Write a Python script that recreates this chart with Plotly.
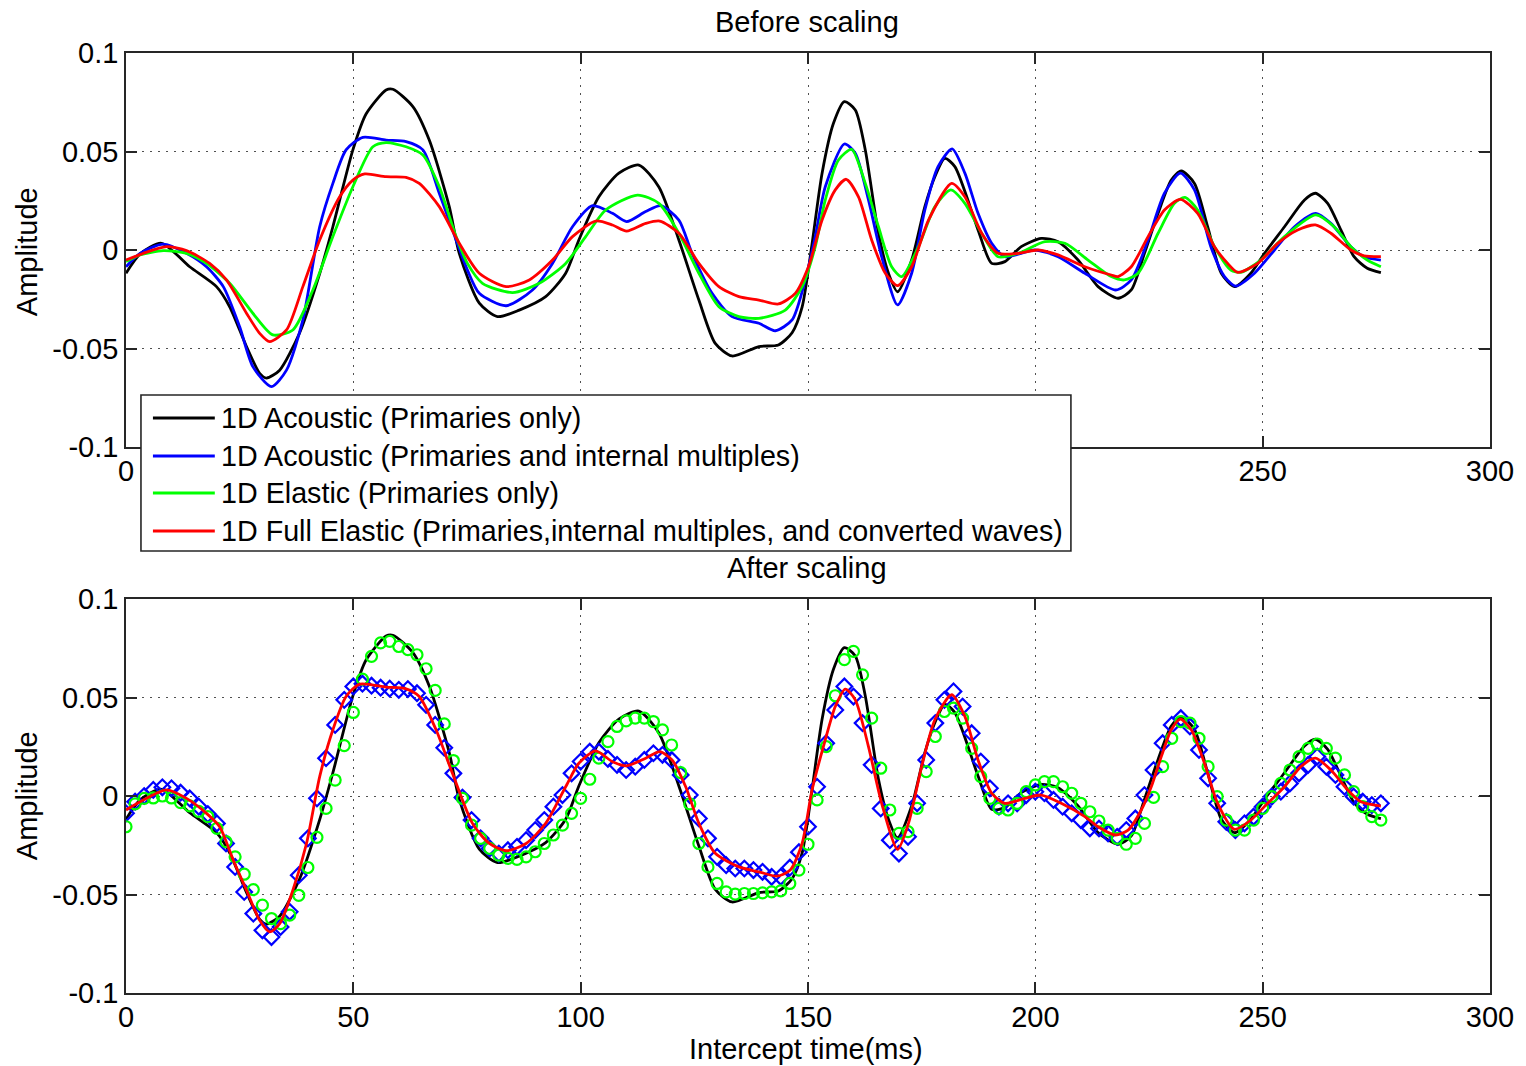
import plotly.graph_objects as go

# ---------------- data ----------------
# Top panel ("Before scaling"), time in ms, amplitude
t_black = [0, 3.1, 7.8, 14, 19.9, 22.8, 26.5, 29.4, 30.9, 33.8, 38.2, 42.6, 45.5, 49.9, 52.8, 57.2, 58.7,
           63.1, 66.7, 71.1, 73.3, 77.7, 81.7, 86.5, 92.3, 96.7, 99.6, 104, 108.4, 112.8, 117.2, 121.6,
           126, 129.6, 133.3, 139.2, 143.5, 146.5, 148.7, 150.7, 153.1, 155.6, 158, 160.4, 162.6, 165.5,
           167.7, 169.7, 172.8, 175.7, 177.9, 180.1, 182.3, 187.4, 190.4, 193.3, 196.9, 201.3, 205,
           209.4, 213.8, 218.2, 221.1, 224, 227, 229.9, 232.1, 235, 237.9, 240.9, 243.8, 247.4, 250.4,
           254.8, 259.2, 261.6, 264.3, 267.2, 270.1, 273, 276]
v_black = [-0.0118, -0.002, 0.0034, -0.0085, -0.0186, -0.0288, -0.049, -0.0626, -0.065, -0.061, -0.042,
           -0.012, 0.0118, 0.0508, 0.069, 0.0812, 0.0816, 0.0728, 0.0558, 0.022, -0.0017, -0.027,
           -0.0338, -0.0305, -0.0237, -0.0118, 0.0051, 0.027, 0.039, 0.0431, 0.032, 0.0051, -0.0254,
           -0.0474, -0.0538, -0.049, -0.0482, -0.042, -0.029, 0.0, 0.039, 0.0643, 0.0753, 0.0711,
           0.0508, 0.0085, -0.0118, -0.0212, -0.0051, 0.022, 0.0372, 0.0465, 0.0423, 0.0102, -0.0068,
           -0.0059, 0.0017, 0.0059, 0.0042, -0.0051, -0.0186, -0.0245, -0.0203, -0.0017, 0.0186,
           0.0355, 0.0401, 0.0338, 0.0118, -0.0118, -0.0186, -0.0118, -0.0017, 0.0118, 0.0254, 0.0288,
           0.0237, 0.0102, -0.0034, -0.0093, -0.0115]

t_blue = [0, 3.1, 8.2, 13.3, 17.7, 21.4, 25, 27.9, 32, 35.3, 38.9, 42.6, 45.5, 48.4, 52.1, 57.2, 61.6,
          65.3, 68.9, 72.6, 75.1, 77.7, 83.6, 89.4, 93.8, 98.2, 102.6, 107, 110.1, 114.3, 117.6, 121.6,
          124.5, 128.9, 133.3, 139.2, 142.8, 146.5, 149.4, 151.6, 153.8, 158, 160.4, 163.3, 166.2,
          169.7, 172.8, 175.7, 178.6, 181.7, 184.5, 187.4, 190.4, 193.3, 199.9, 205, 210.9, 217.7,
          221.1, 224.8, 228.4, 231.9, 235, 238.6, 241.6, 244.1, 248.2, 252.6, 257, 261.7, 265, 269.4,
          272.3, 276]
v_blue = [-0.0085, -0.0017, 0.003, -0.0017, -0.0085, -0.0186, -0.039, -0.0592, -0.0694, -0.061, -0.0355,
          0.0118, 0.0338, 0.0508, 0.0572, 0.0558, 0.055, 0.0508, 0.0288, 0.0051, -0.0102, -0.022,
          -0.0283, -0.0203, -0.0068, 0.0118, 0.0225, 0.0186, 0.0144, 0.0195, 0.0225, 0.0152, -0.0017,
          -0.022, -0.0338, -0.0372, -0.041, -0.0355, -0.0152, 0.0068, 0.0321, 0.0538, 0.0491, 0.0254,
          -0.0034, -0.0279, -0.0118, 0.0203, 0.0423, 0.0513, 0.039, 0.0186, 0.0034, -0.0034, 0.0,
          -0.0034, -0.0118, -0.0203, -0.0152, 0.0051, 0.0288, 0.039, 0.0305, 0.0017, -0.0135, -0.0183,
          -0.0118, 0.0, 0.0118, 0.0186, 0.0135, 0.0017, -0.0034, -0.0051]

t_green = [0, 3.1, 8.2, 13.3, 17.7, 22.8, 27.9, 32.3, 36.7, 41.1, 45.5, 49.9, 54.3, 57.2, 61.6, 65.3,
           68.9, 72.6, 75.1, 78.4, 85, 90.9, 96.7, 101.1, 105.5, 112.5, 117.2, 121.6, 126, 130.4, 134.8,
           139.2, 145, 148.7, 151.6, 153.8, 156.7, 159.6, 162.6, 165.5, 168.4, 170.6, 174.3, 177.9,
           181.4, 184.5, 188.2, 191.8, 196.2, 202.1, 206.5, 211.6, 216.7, 219.6, 222.6, 227, 230.6,
           232.9, 235.7, 239.4, 243, 245.2, 249.6, 254.8, 261.7, 265.7, 269.4, 273, 276]
v_green = [-0.0059, -0.0025, -0.0003, -0.0017, -0.0068, -0.0169, -0.0321, -0.0431, -0.0406, -0.0203,
           0.0068, 0.0321, 0.0524, 0.0545, 0.0524, 0.0482, 0.0321, 0.0068, -0.0068, -0.0169, -0.0216,
           -0.0169, -0.0068, 0.0068, 0.0203, 0.0279, 0.0237, 0.0085, -0.0118, -0.0288, -0.0338,
           -0.0347, -0.0305, -0.0186, 0.0017, 0.0254, 0.0457, 0.0511, 0.0338, 0.0118, -0.0085,
           -0.0135, 0.0017, 0.022, 0.0305, 0.0237, 0.0085, -0.0034, -0.0017, 0.0042, 0.0034, -0.0051,
           -0.0135, -0.0152, -0.0118, 0.0085, 0.0237, 0.0267, 0.0203, 0.0017, -0.0102, -0.0113,
           -0.0051, 0.0068, 0.0178, 0.0118, 0.0017, -0.0051, -0.0085]

t_red = [0, 3.8, 8.9, 13.3, 18.4, 22.1, 26.5, 29.4, 31.6, 35.3, 38.9, 42.6, 47, 49.9, 52.5, 57.2, 61.6,
         64.5, 68.9, 73.3, 77.7, 83.6, 88.7, 93.8, 98.2, 103.3, 107, 110.1, 114.3, 117.4, 121.6, 126,
         130.4, 134.8, 139.2, 143.5, 147.2, 150.1, 153.1, 156, 158.4, 161.1, 164, 167, 169.7, 172.8,
         176.5, 181.6, 184.5, 188.2, 191.8, 196.2, 200.6, 205, 210.9, 216.7, 218.2, 221.1, 224.8,
         228.4, 231.9, 235.7, 239.4, 242.3, 244.5, 248.9, 253.3, 257.7, 261.6, 265, 269.4, 272.3, 276]
v_red = [-0.0051, -0.0017, 0.0017, -0.0003, -0.0068, -0.0152, -0.0321, -0.0423, -0.0465, -0.0406,
         -0.0186, 0.0051, 0.027, 0.0355, 0.0386, 0.0372, 0.0369, 0.0338, 0.022, 0.0034, -0.0118,
         -0.0186, -0.0152, -0.0051, 0.0068, 0.0147, 0.0127, 0.0096, 0.0135, 0.0147, 0.0085, -0.0068,
         -0.0186, -0.0237, -0.0254, -0.0274, -0.022, -0.0085, 0.0152, 0.0305, 0.0359, 0.027, 0.0051,
         -0.0118, -0.0181, -0.0085, 0.0152, 0.0338, 0.027, 0.0085, -0.0017, -0.0017, 0.0, -0.0025,
         -0.0085, -0.0127, -0.0135, -0.0085, 0.0068, 0.0203, 0.0257, 0.0186, 0.0017, -0.0068, -0.0113,
         -0.0068, 0.0034, 0.0102, 0.0127, 0.0085, 0.0, -0.003, -0.0034]

# Bottom panel ("After scaling")
t_red_scaled = [0, 3.1, 8.9, 13.3, 17.7, 20.6, 23.6, 26.5, 29.4, 31.6, 33.8, 36.7, 39.7, 42.6, 45.5,
                48.4, 51.4, 57.2, 61.6, 64.5, 68.2, 71.8, 76.2, 79.9, 83.6, 88, 92.3, 96.7, 99.6,
                103.3, 107, 110.1, 114.3, 117.4, 120.1, 123.1, 126, 129.6, 134.8, 139.2, 143.2, 146.1,
                148.7, 150.9, 153.8, 156, 158.2, 160.4, 163.3, 166.2, 169.7, 172.1, 175, 177.9, 181.6,
                184.5, 187.4, 190.4, 193.3, 197.7, 201.3, 205.7, 210.9, 213.8, 217.6, 220.4, 223.3,
                225.5, 227.7, 229.9, 231.9, 234.3, 237.2, 240.1, 243.8, 247.4, 251.1, 254.8, 258.4,
                261.6, 265, 268.7, 271.6, 276]
v_red_scaled = [-0.0071, -0.0029, 0.0031, -0.0012, -0.0088, -0.0156, -0.0326, -0.0478, -0.0631, -0.069,
                -0.0648, -0.0478, -0.0241, 0.0098, 0.0336, 0.0505, 0.0568, 0.0553, 0.0544, 0.0505,
                0.0336, 0.0115, -0.0139, -0.0241, -0.0278, -0.0241, -0.0139, 0.0047, 0.0166, 0.0229,
                0.0174, 0.0153, 0.0192, 0.0225, 0.0183, 0.0047, -0.0139, -0.0291, -0.036, -0.0385,
                -0.0407, -0.0376, -0.0241, 0.0031, 0.0285, 0.0454, 0.0543, 0.0488, 0.0251, -0.0037,
                -0.0271, -0.0139, 0.0149, 0.0387, 0.0514, 0.0404, 0.0183, 0.0014, -0.0037, -0.0012,
                0.0005, -0.0037, -0.0105, -0.0156, -0.0198, -0.0173, -0.0071, 0.0047, 0.02, 0.0336,
                0.039, 0.0336, 0.0166, -0.0037, -0.0169, -0.0122, -0.0037, 0.0047, 0.0149, 0.0192,
                0.0132, 0.0031, -0.0029, -0.0051]

t_markers = list(range(0, 277, 2))
v_blue_markers = [-0.0088, -0.0029, 0.0, 0.0031, 0.0044, 0.0039, 0.0017, -0.0012, -0.0054, -0.0092,
                  -0.0139, -0.0241, -0.036, -0.0487, -0.0597, -0.0682, -0.0716, -0.0665, -0.0588,
                  -0.0402, -0.0215, -0.0012, 0.0192, 0.0361, 0.0488, 0.0556, 0.057, 0.056, 0.055,
                  0.0545, 0.0539, 0.0543, 0.0522, 0.0463, 0.0361, 0.0245, 0.0115, -0.0008, -0.0122,
                  -0.0215, -0.0266, -0.0292, -0.0275, -0.0258, -0.0224, -0.0173, -0.0122, -0.0054,
                  0.0005, 0.0115, 0.0175, 0.0225, 0.0225, 0.0188, 0.0158, 0.0132, 0.0149, 0.0183,
                  0.0217, 0.0209, 0.0183, 0.0107, 0.0005, -0.0114, -0.0215, -0.0309, -0.0351, -0.0368,
                  -0.0368, -0.0376, -0.0385, -0.041, -0.041, -0.0364, -0.0285, -0.0156, 0.0047, 0.0268,
                  0.0437, 0.0556, 0.0505, 0.037, 0.0158, -0.0063, -0.0224, -0.0292, -0.0207, -0.0037,
                  0.0183, 0.037, 0.0488, 0.0531, 0.0454, 0.0319, 0.0175, 0.0039, -0.0054, -0.0037,
                  -0.0037, 0.0005, 0.0022, 0.0014, -0.002, -0.0054, -0.0088, -0.0122, -0.0164, -0.0165,
                  -0.019, -0.0207, -0.0173, -0.0114, 0.0005, 0.0132, 0.0268, 0.0361, 0.0395, 0.0353,
                  0.0234, 0.009, -0.0037, -0.0131, -0.0173, -0.0139, -0.0105, -0.0054, -0.0003, 0.0022,
                  0.0064, 0.0115, 0.0158, 0.02, 0.0149, 0.0107, 0.0047, -0.0003, -0.0029, -0.0046,
                  -0.0037]
v_green_markers = [-0.0156, -0.004, -0.0012, -0.001, 0.0, -0.001, -0.0034, -0.005, -0.0078, -0.0105,
                   -0.0164, -0.0232, -0.0309, -0.0397, -0.0475, -0.0554, -0.0622, -0.0648, -0.0605,
                   -0.0504, -0.0363, -0.021, -0.0063, 0.0081, 0.0256, 0.0424, 0.0593, 0.0709, 0.0777,
                   0.0785, 0.0759, 0.0743, 0.0717, 0.0646, 0.0536, 0.0366, 0.018, -0.0012, -0.0148,
                   -0.0215, -0.0266, -0.030, -0.0317, -0.0322, -0.0309, -0.0283, -0.0241, -0.0198,
                   -0.0148, -0.0088, -0.0012, 0.0085, 0.0192, 0.0276, 0.0353, 0.0381, 0.0395, 0.0395,
                   0.0378, 0.0336, 0.0259, 0.0119, -0.004, -0.0241, -0.036, -0.0444, -0.0487, -0.0498,
                   -0.0495, -0.0495, -0.0492, -0.0487, -0.0482, -0.0444, -0.0376, -0.0245, -0.002,
                   0.0251, 0.0509, 0.0692, 0.0734, 0.0615, 0.0395, 0.0141, -0.0071, -0.019, -0.0181,
                   -0.0063, 0.0124, 0.0302, 0.0429, 0.0446, 0.0395, 0.0242, 0.0098, -0.0012, -0.0063,
                   -0.0071, -0.0037, 0.0022, 0.0056, 0.0073, 0.0073, 0.0047, 0.0014, -0.0037, -0.008,
                   -0.0127, -0.0173, -0.0215, -0.0245, -0.0215, -0.0139, -0.0007, 0.0149, 0.0293,
                   0.0378, 0.037, 0.0293, 0.0149, -0.0003, -0.0122, -0.0173, -0.0173, -0.0122, -0.0063,
                   -0.0003, 0.0064, 0.0132, 0.02, 0.0242, 0.0264, 0.0242, 0.0192, 0.0107, 0.0022,
                   -0.0054, -0.0105, -0.0122]

series_names = ["1D Acoustic (Primaries only)",
                "1D Acoustic (Primaries and internal multiples)",
                "1D Elastic (Primaries only)",
                "1D Full Elastic (Primaries,internal multiples, and converted waves)"]
series_colors = ["#000000", "#0000FF", "#00FF00", "#FF0000"]

x_ticks = [0, 50, 100, 150, 200, 250, 300]
x_ticktext = ["0", "50", "100", "150", "200", "250", "300"]
# in the upper panel the labels 50..200 sit under the legend box and are not visible
x_ticktext_top = ["0", "", "", "", "", "250", "300"]
y_ticks = [-0.1, -0.05, 0, 0.05, 0.1]
y_ticktext = ["-0.1", "-0.05", "0", "0.05", "0.1"]

# ---------------- figure ----------------
W, H = 1526, 1066
ML, MR, MT, MB = 126, 33, 53, 73
PW, PH = W - ML - MR, H - MT - MB


def px_x(p):
    return (p - ML) / PW


def px_y(p):
    return (H - MB - p) / PH


FONT = "Arial, 'Liberation Sans', Helvetica, sans-serif"
FS = 29
LW = 2.8

fig = go.Figure()

# top panel
for t, v, c, n in zip([t_black, t_blue, t_green, t_red], [v_black, v_blue, v_green, v_red],
                      series_colors, series_names):
    fig.add_trace(go.Scatter(x=t, y=v, mode="lines", name=n, showlegend=False,
                             line=dict(color=c, width=LW, shape="spline", smoothing=0.7),
                             xaxis="x", yaxis="y"))

# bottom panel
fig.add_trace(go.Scatter(x=t_black, y=v_black, mode="lines", showlegend=False,
                         line=dict(color=series_colors[0], width=LW, shape="spline", smoothing=0.7),
                         xaxis="x2", yaxis="y2"))
fig.add_trace(go.Scatter(x=t_markers, y=v_blue_markers, mode="markers", showlegend=False,
                         marker=dict(symbol="diamond-open", size=12, color=series_colors[1],
                                     line=dict(width=2.2, color=series_colors[1])),
                         xaxis="x2", yaxis="y2"))
fig.add_trace(go.Scatter(x=t_markers, y=v_green_markers, mode="markers", showlegend=False,
                         marker=dict(symbol="circle-open", size=11, color=series_colors[2],
                                     line=dict(width=2.2, color=series_colors[2])),
                         xaxis="x2", yaxis="y2"))
fig.add_trace(go.Scatter(x=t_red_scaled, y=v_red_scaled, mode="lines", showlegend=False,
                         line=dict(color=series_colors[3], width=LW, shape="spline", smoothing=0.7),
                         xaxis="x2", yaxis="y2"))

axis_common = dict(
    showline=True, linecolor="#262626", linewidth=1.6, mirror="ticks",
    ticks="inside", ticklen=11, tickwidth=1.6, tickcolor="#262626",
    showgrid=True, gridcolor="#505050", gridwidth=1.3, griddash="2px,6px",
    zeroline=False, tickfont=dict(family=FONT, size=FS, color="#000000"),
)

top_dom = [px_y(447), px_y(53)]
bot_dom = [px_y(993), px_y(599)]

fig.update_layout(
    width=W, height=H,
    margin=dict(l=ML, r=MR, t=MT, b=MB, pad=0),
    paper_bgcolor="white", plot_bgcolor="white",
    showlegend=False,
    xaxis=dict(range=[0, 300], tickvals=x_ticks, ticktext=x_ticktext_top, anchor="y",
               domain=[0, 1], ticklabelstandoff=-3, **axis_common),
    yaxis=dict(range=[-0.1, 0.1], tickvals=y_ticks, ticktext=y_ticktext, anchor="x",
               domain=top_dom, ticklabelstandoff=0, **axis_common),
    xaxis2=dict(range=[0, 300], tickvals=x_ticks, ticktext=x_ticktext, anchor="y2",
                domain=[0, 1], ticklabelstandoff=-3, **axis_common),
    yaxis2=dict(range=[-0.1, 0.1], tickvals=y_ticks, ticktext=y_ticktext, anchor="x2",
                domain=bot_dom, ticklabelstandoff=0, **axis_common),
)

# legend drawn as a box with line samples and text (placed like the original)
shapes = [dict(type="rect", xref="paper", yref="paper",
               x0=px_x(141), x1=px_x(1073), y0=px_y(551), y1=px_y(395),
               fillcolor="white", line=dict(color="#262626", width=1.6), layer="above")]
annotations = []
row_y = [418, 456, 493, 531]
for ry, c, n in zip(row_y, series_colors, series_names):
    shapes.append(dict(type="line", xref="paper", yref="paper",
                       x0=px_x(153), x1=px_x(215), y0=px_y(ry), y1=px_y(ry),
                       line=dict(color=c, width=LW), layer="above"))
    annotations.append(dict(text=n, xref="paper", yref="paper", x=px_x(219), y=px_y(ry),
                            xanchor="left", yanchor="middle", showarrow=False,
                            font=dict(family=FONT, size=28.7, color="black")))

titles = [("Before scaling", 808, 22, 0), ("After scaling", 808, 568, 0),
          ("Amplitude", 27, 252, -90), ("Amplitude", 27, 796, -90),
          ("Intercept time(ms)", 807, 1049, 0)]
for txt, xx, yy, ang in titles:
    annotations.append(dict(text=txt, xref="paper", yref="paper", x=px_x(xx), y=px_y(yy),
                            xanchor="center", yanchor="middle", showarrow=False, textangle=ang,
                            font=dict(family=FONT, size=FS, color="black")))

fig.update_layout(shapes=shapes, annotations=annotations)

fig.write_html("out.html", config={"displayModeBar": False},
               post_script="document.body.style.margin='0';")
